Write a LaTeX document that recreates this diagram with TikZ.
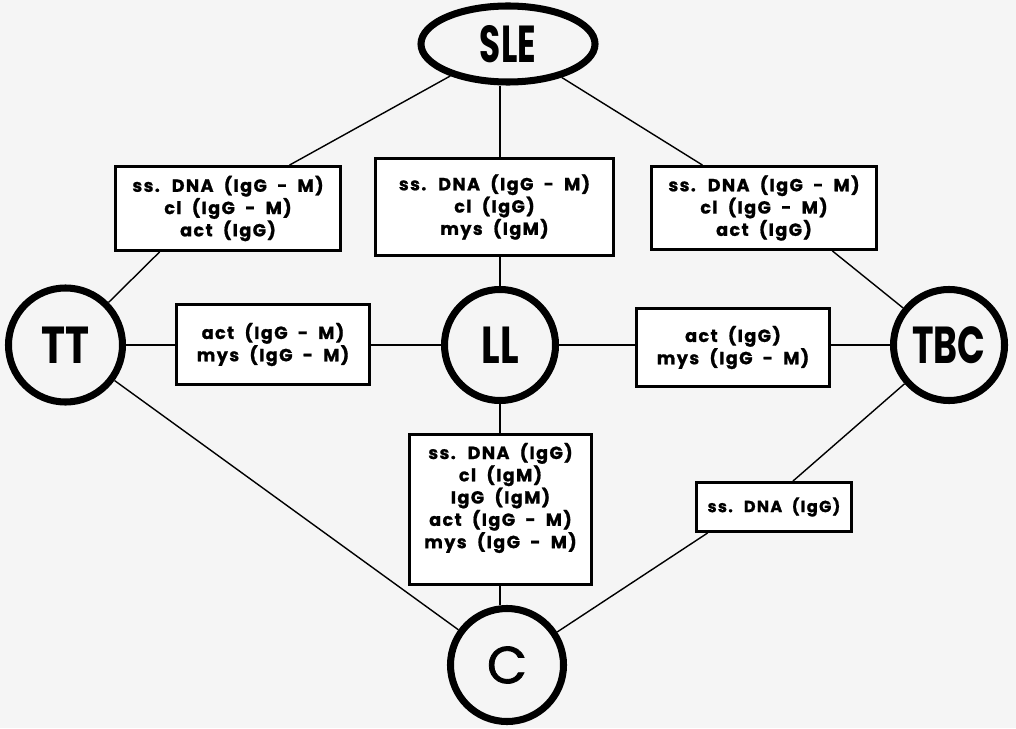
\documentclass[tikz,border=0pt]{standalone}
\usepackage{fontspec}
\setmainfont{Poppins}
\newfontfamily\boxfont{Poppins}[LetterSpace=8, BoldFeatures={FakeBold=1}]
\newfontfamily\cfont{Poppins}[FakeBold=1.5]
\usetikzlibrary{shapes.geometric,calc}
\definecolor{paper}{RGB}{245,245,245}
\begin{document}
\begin{tikzpicture}[x=0.025cm,y=-0.025cm,
  circ/.style={circle,draw,line width=5pt,fill=paper,inner sep=0pt,
    font=\fontsize{37}{40}\selectfont\bfseries},
  lbox/.style={rectangle,draw,line width=2pt,fill=white,inner sep=0pt,align=center,
    font=\boxfont\fontsize{12.5}{13.9}\selectfont\bfseries},
  btext/.style={inner sep=0pt,align=center,font=\boxfont\fontsize{12.5}{13.9}\selectfont\bfseries},
  conn/.style={line width=1pt}]
\fill[paper] (0,0) rectangle (1016,728);
\useasboundingbox (0,0) rectangle (1016,728);

% circles
\node[circ,ellipse,minimum width=4.35cm,minimum height=1.9cm] (SLE) at (508,44) {\scalebox{0.66}[1]{SLE}};
\node[circ,minimum size=2.85cm] (TT) at (65.5,345) {\scalebox{0.78}[1]{TT}};
\node[circ,minimum size=2.775cm] (LL) at (500,345) {\scalebox{0.75}[1]{LL}};
\node[circ,minimum size=2.775cm] (TBC) at (949,345) {\scalebox{0.7}[1]{TBC}};
\node[circ,minimum size=2.825cm,font=\cfont\fontsize{37}{40}\selectfont] (C) at (507,665) {C};

% boxes
\node[lbox,minimum width=5.625cm,minimum height=2.1cm] (b1) at (228,208.5)
  {ss.~ DNA~ (IgG~ -~ M)\\ cl~ (IgG~ -~ M)\\ act~ (IgG)};
\node[lbox,minimum width=5.95cm,minimum height=2.425cm] (b2) at (494.5,207)
  {ss.~ DNA~ (IgG~ -~ M)\\ cl~ (IgG)\\ mys~ (IgM)};
\node[lbox,minimum width=5.625cm,minimum height=2.075cm] (b3) at (764,208)
  {ss.~ DNA~ (IgG~ -~ M)\\ cl~ (IgG~ -~ M)\\ act~ (IgG)};
\node[lbox,minimum width=4.825cm,minimum height=2cm] (b4) at (273,344.5)
  {act~ (IgG~ -~ M)\\ mys~ (IgG~ -~ M)};
\node[lbox,minimum width=4.825cm,minimum height=1.95cm] (b5) at (733,347.5)
  {act~ (IgG)\\ mys~ (IgG~ -~ M)};
\node[lbox,minimum width=4.55cm,minimum height=3.75cm] (b6) at (500.5,509.5) {};
\node[btext] (b6t) at (500.5,498)
  {ss.~ DNA~ (IgG)\\ cl~ (IgM)\\ IgG~ (IgM)\\ act~ (IgG~ -~ M)\\ mys~ (IgG~ -~ M)};
\node[lbox,minimum width=3.875cm,minimum height=1.225cm,
  font=\boxfont\fontsize{11.5}{13.9}\selectfont\bfseries] (b7) at (774,507)
  {ss.~ DNA~ (IgG)};

% connectors
\draw[conn] (SLE) -- ($(b1.north west)!0.77!(b1.north east)$);
\draw[conn] ($(b1.south west)!0.2!(b1.south east)$) -- (TT);
\draw[conn] (SLE) -- ($(b3.north west)!0.23!(b3.north east)$);
\draw[conn] ($(b3.south west)!0.8!(b3.south east)$) -- (TBC);
\draw[conn] (TBC) -- ($(b7.north west)!0.62!(b7.north east)$);
\draw[conn] ($(b7.south west)!0.08!(b7.south east)$) -- (C);
\draw[conn] (TT) -- (C);
\draw[conn] (LL.north |- SLE.south) -- (LL.north |- b2.north);
\draw[conn] (LL.north) -- (LL.north |- b2.south);
\draw[conn] (LL.south) -- (LL.south |- b6.north);
\draw[conn] (LL.south |- b6.south) -- (LL.south |- C.north);
\draw[conn] (TT.east) -- (TT.east -| b4.west);
\draw[conn] (LL.west -| b4.east) -- (LL.west);
\draw[conn] (LL.east) -- (LL.east -| b5.west);
\draw[conn] (TBC.west -| b5.east) -- (TBC.west);
\end{tikzpicture}
\end{document}
